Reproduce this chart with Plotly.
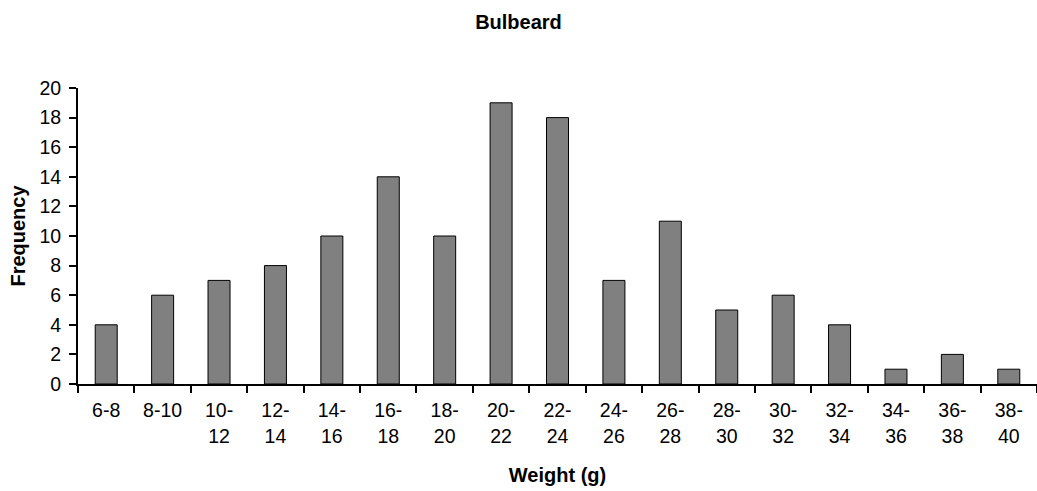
import plotly.graph_objects as go

# Weight classes (g) and the number of birds in each
weight_bins = ["6-8", "8-10", "10-<br>12", "12-<br>14", "14-<br>16", "16-<br>18", "18-<br>20",
               "20-<br>22", "22-<br>24", "24-<br>26", "26-<br>28", "28-<br>30", "30-<br>32",
               "32-<br>34", "34-<br>36", "36-<br>38", "38-<br>40"]
frequency = [4, 6, 7, 8, 10, 14, 10, 19, 18, 7, 11, 5, 6, 4, 1, 2, 1]
y_ticks = list(range(0, 21, 2))

FONT = "Liberation Sans, Arial, sans-serif"
TICK_SIZE = 19.5
TITLE_SIZE = 20

fig = go.Figure(
    go.Bar(
        x=weight_bins,
        y=frequency,
        marker=dict(color="#808080", line=dict(color="#000000", width=1)),
    )
)

fig.update_layout(
    width=1037,
    height=491,
    margin=dict(l=78, r=0, t=88, b=107),
    paper_bgcolor="white",
    plot_bgcolor="white",
    bargap=0.61,
    showlegend=False,
    font=dict(family=FONT, size=TICK_SIZE, color="black"),
    title=dict(
        text="<b>Bulbeard</b>",
        font=dict(family=FONT, size=TITLE_SIZE, color="black"),
        x=0.5, xanchor="center", xref="container",
        y=1 - 22 / 491, yanchor="middle", yref="container",
    ),
)

fig.update_xaxes(
    type="category",
    showline=True, linecolor="black", linewidth=2,
    ticks="outside", tickson="boundaries", ticklen=7, tickwidth=2, tickcolor="black",
    tickfont=dict(family=FONT, size=TICK_SIZE, color="black"),
    ticklabelstandoff=8,
    showgrid=False,
    title=dict(text="<b>Weight (g)</b>", font=dict(family=FONT, size=TITLE_SIZE, color="black"), standoff=22),
)

fig.update_yaxes(
    range=[0, 20],
    tickvals=y_ticks,
    showline=True, linecolor="black", linewidth=2,
    ticks="outside", ticklen=7, tickwidth=2, tickcolor="black",
    tickfont=dict(family=FONT, size=TICK_SIZE, color="black"),
    ticklabelstandoff=4,
    showgrid=False, zeroline=False,
    title=dict(text="<b>Frequency</b>", font=dict(family=FONT, size=TITLE_SIZE, color="black"), standoff=8),
)

fig.write_html("out.html")
